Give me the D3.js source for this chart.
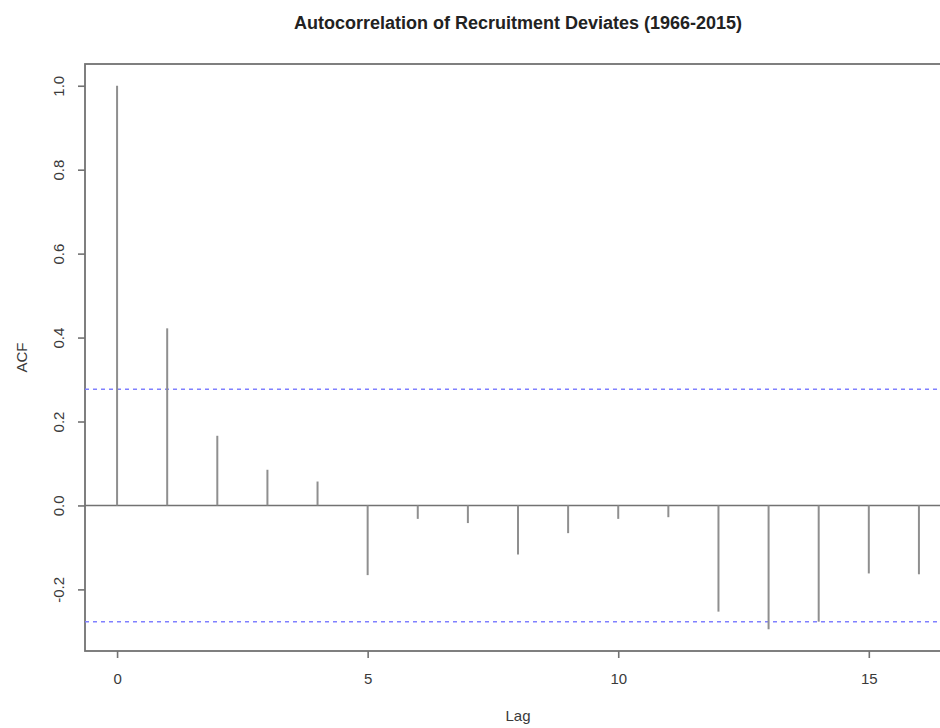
<!DOCTYPE html>
<html>
<head>
<meta charset="utf-8">
<script src="https://cdn.jsdelivr.net/npm/d3@7"></script>
<style>
  html, body { margin: 0; padding: 0; background: #fff; }
  svg { display: block; }
  text { font-family: "Liberation Sans", Arial, sans-serif; }
</style>
</head>
<body>
<svg id="chart" width="940" height="728"></svg>
<script>
const lags = [0,1,2,3,4,5,6,7,8,9,10,11,12,13,14,15,16];
const acfValues = [1.000, 0.422, 0.166, 0.085, 0.057, -0.166, -0.032, -0.042, -0.117, -0.066, -0.032, -0.028, -0.253, -0.295, -0.277, -0.162, -0.164];
const confLimit = [0.277, -0.277];
const xTicks = [0, 5, 10, 15];
const yTicks = [-0.2, 0.0, 0.2, 0.4, 0.6, 0.8, 1.0];
const titleText = "Autocorrelation of Recruitment Deviates (1966-2015)";
const xLabel = "Lag";
const yLabel = "ACF";

const svg = d3.select("#chart");
const plotLeft = 85, plotRight = 951, plotTop = 64, plotBottom = 651;

const x = d3.scaleLinear().domain([-0.64, 16.64]).range([plotLeft, plotRight]);
const yMin = -0.295, yMax = 1.0, ext = (yMax - yMin) * 0.04;
const y = d3.scaleLinear().domain([yMin - ext, yMax + ext]).range([plotBottom, plotTop]);

const axisColor = "#727272";
const textColor = "#3a3a3a";
const fmtY = d => d.toFixed(1);

// Plot box
svg.append("rect")
  .attr("x", plotLeft).attr("y", plotTop)
  .attr("width", plotRight - plotLeft).attr("height", plotBottom - plotTop)
  .attr("fill", "none").attr("stroke", axisColor).attr("stroke-width", 1.8);

// Zero line
svg.append("line")
  .attr("x1", plotLeft).attr("x2", plotRight)
  .attr("y1", y(0)).attr("y2", y(0))
  .attr("stroke", axisColor).attr("stroke-width", 1.6);

// Confidence limits
svg.selectAll("line.conf").data(confLimit).enter().append("line")
  .attr("class", "conf")
  .attr("x1", plotLeft).attr("x2", plotRight)
  .attr("y1", d => y(d)).attr("y2", d => y(d))
  .attr("stroke", "#8080ff").attr("stroke-width", 1.6)
  .attr("stroke-dasharray", "4,4");

// ACF spikes
svg.selectAll("line.spike").data(lags).enter().append("line")
  .attr("class", "spike")
  .attr("x1", d => x(d)).attr("x2", d => x(d))
  .attr("y1", y(0)).attr("y2", (d, i) => y(acfValues[i]))
  .attr("stroke", "#8f8f8f").attr("stroke-width", 2);

// X axis
const xAxis = d3.axisBottom(x).tickValues(xTicks).tickFormat(d3.format("d")).tickSize(7).tickPadding(15);
const gx = svg.append("g").attr("transform", `translate(0,${plotBottom})`).call(xAxis);
gx.select(".domain").remove();
gx.selectAll(".tick line").attr("stroke", axisColor).attr("stroke-width", 1.6);
gx.selectAll(".tick text").attr("fill", textColor).attr("font-size", 15)
  .attr("font-family", "Liberation Sans, Arial, sans-serif");

// Y axis
const yAxis = d3.axisLeft(y).tickValues(yTicks).tickFormat(fmtY).tickSize(7).tickPadding(0);
const gy = svg.append("g").attr("transform", `translate(${plotLeft},0)`).call(yAxis);
gy.select(".domain").remove();
gy.selectAll(".tick line").attr("stroke", axisColor).attr("stroke-width", 1.6);
gy.selectAll(".tick text")
  .attr("fill", textColor).attr("font-size", 15)
  .attr("font-family", "Liberation Sans, Arial, sans-serif")
  .attr("x", 0).attr("dy", 0)
  .attr("text-anchor", "middle")
  .attr("transform", "translate(-21,0) rotate(-90)");

// Title
svg.append("text")
  .attr("x", (plotLeft + plotRight) / 2).attr("y", 29)
  .attr("text-anchor", "middle")
  .attr("font-size", 18).attr("font-weight", "bold").attr("fill", "#222")
  .text(titleText);

// Axis labels
svg.append("text")
  .attr("x", (plotLeft + plotRight) / 2).attr("y", 721)
  .attr("text-anchor", "middle")
  .attr("font-size", 15).attr("fill", textColor)
  .text(xLabel);

svg.append("text")
  .attr("transform", `translate(27,${(plotTop + plotBottom) / 2}) rotate(-90)`)
  .attr("text-anchor", "middle")
  .attr("font-size", 15).attr("fill", textColor)
  .text(yLabel);
</script>
</body>
</html>
